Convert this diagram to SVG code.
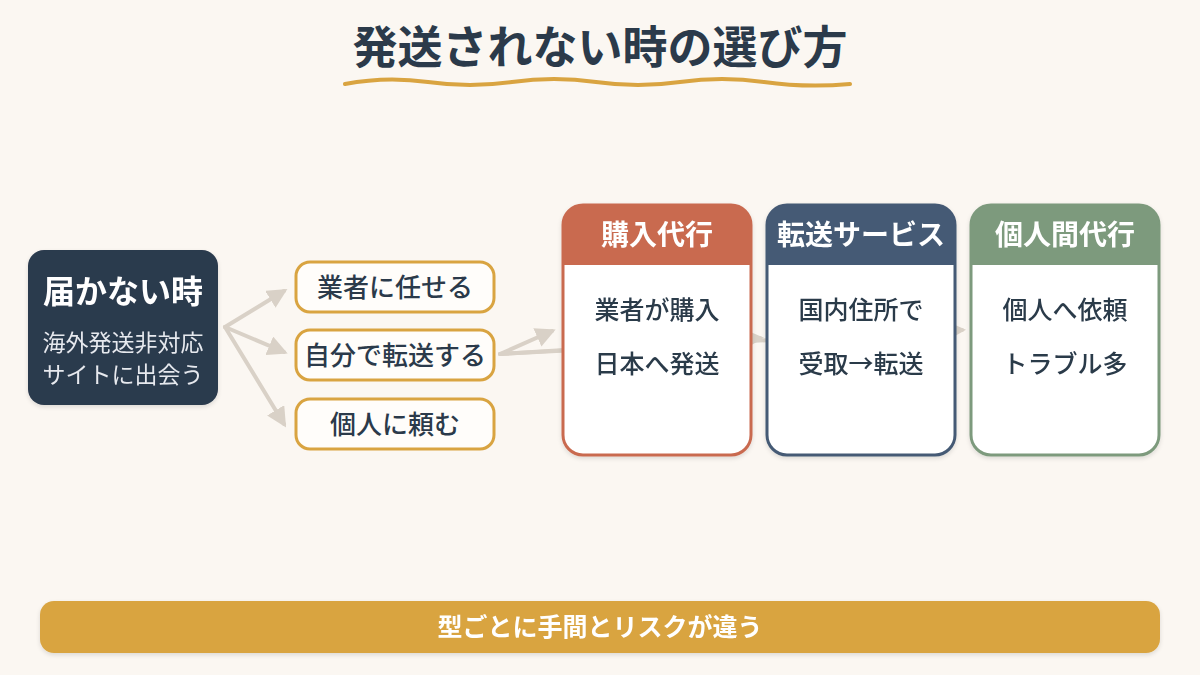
<svg xmlns="http://www.w3.org/2000/svg" width="1200" height="675" viewBox="0 0 1200 675">
<defs>
<style>
.jp{font-family:"Noto Sans CJK JP","Noto Sans",sans-serif}
.conn{stroke:#d9d1c7;stroke-width:4;fill:none;stroke-linecap:round}
.opt rect{fill:#fffdfa;stroke:#d9a441;stroke-width:3}
.opt text{font-size:26px;fill:#2b3a4a;text-anchor:middle;font-weight:500}
.hd{font-size:28px;fill:#ffffff;text-anchor:middle;font-weight:600}
.bd{font-size:25px;fill:#2b3a4a;text-anchor:middle;font-weight:500}
</style>
<marker id="ah" viewBox="0 0 10 10" refX="8" refY="5" markerWidth="5" markerHeight="5" orient="auto" markerUnits="strokeWidth">
<path d="M0,0 L10,5 L0,10 z" fill="#d9d1c7"/>
</marker>
<filter id="sh" x="-10%" y="-10%" width="120%" height="130%">
<feDropShadow dx="0" dy="2" stdDeviation="2" flood-color="#000" flood-opacity="0.12"/>
</filter>
</defs>
<rect width="1200" height="675" fill="#fbf7f2"/>

<g id="title">
<text x="600" y="64" class="jp" font-size="45" font-weight="700" fill="#2b3a4a" text-anchor="middle">発送されない時の選び方</text>
<path d="M345,84 Q386,76 428,82 T512,82 T596,82 T680,82 T764,82 T850,84" stroke="#d9a441" stroke-width="4" fill="none" stroke-linecap="round"/>
</g>

<g id="connectors">
<line class="conn" x1="225" y1="327" x2="284" y2="291" marker-end="url(#ah)"/>
<line class="conn" x1="225" y1="327" x2="284" y2="352" marker-end="url(#ah)"/>
<line class="conn" x1="225" y1="327" x2="284" y2="424" marker-end="url(#ah)"/>
<line class="conn" x1="500" y1="354" x2="552" y2="331" marker-end="url(#ah)"/>
<line class="conn" x1="500" y1="354" x2="760" y2="338" marker-end="url(#ah)"/>
<line class="conn" x1="500" y1="354" x2="962" y2="330" marker-end="url(#ah)"/>
</g>

<g id="start" filter="url(#sh)">
<rect x="28" y="250" width="190" height="155" rx="16" fill="#2b3a4d"/>
<text x="123" y="303" class="jp" font-size="32" font-weight="700" fill="#ffffff" text-anchor="middle">届かない時</text>
<text x="123" y="351" class="jp" font-size="23" fill="#e6e9ee" text-anchor="middle">海外発送非対応</text>
<text x="123" y="383" class="jp" font-size="23" fill="#e6e9ee" text-anchor="middle">サイトに出会う</text>
</g>

<g id="opt1" class="opt jp">
<rect x="296" y="262" width="198" height="50" rx="14"/>
<text x="395" y="297">業者に任せる</text>
</g>
<g id="opt2" class="opt jp">
<rect x="296" y="330" width="198" height="50" rx="14"/>
<text x="395" y="365">自分で転送する</text>
</g>
<g id="opt3" class="opt jp">
<rect x="296" y="399" width="198" height="50" rx="14"/>
<text x="395" y="434">個人に頼む</text>
</g>

<g id="card1" class="jp" filter="url(#sh)">
<rect x="563" y="205" width="188" height="250" rx="20" fill="#ffffff" stroke="#c96a50" stroke-width="3"/>
<path d="M563,265 V225 A20,20 0 0 1 583,205 H731 A20,20 0 0 1 751,225 V265 Z" fill="#c96a50"/>
<text x="657" y="245" class="hd">購入代行</text>
<text x="657" y="319" class="bd">業者が購入</text>
<text x="657" y="373" class="bd">日本へ発送</text>
</g>

<g id="card2" class="jp" filter="url(#sh)">
<rect x="767" y="205" width="188" height="250" rx="20" fill="#ffffff" stroke="#455a74" stroke-width="3"/>
<path d="M767,265 V225 A20,20 0 0 1 787,205 H935 A20,20 0 0 1 955,225 V265 Z" fill="#455a74"/>
<text x="861" y="245" class="hd">転送サービス</text>
<text x="861" y="319" class="bd">国内住所で</text>
<text x="861" y="373" class="bd">受取→転送</text>
</g>

<g id="card3" class="jp" filter="url(#sh)">
<rect x="971" y="205" width="188" height="250" rx="20" fill="#ffffff" stroke="#7d9a7d" stroke-width="3"/>
<path d="M971,265 V225 A20,20 0 0 1 991,205 H1139 A20,20 0 0 1 1159,225 V265 Z" fill="#7d9a7d"/>
<text x="1065" y="245" class="hd">個人間代行</text>
<text x="1065" y="319" class="bd">個人へ依頼</text>
<text x="1065" y="373" class="bd">トラブル多</text>
</g>

<g id="banner" filter="url(#sh)">
<rect x="40" y="601" width="1120" height="52" rx="14" fill="#d9a441"/>
<text x="600" y="636" class="jp" font-size="25" font-weight="700" fill="#ffffff" text-anchor="middle">型ごとに手間とリスクが違う</text>
</g>
</svg>
